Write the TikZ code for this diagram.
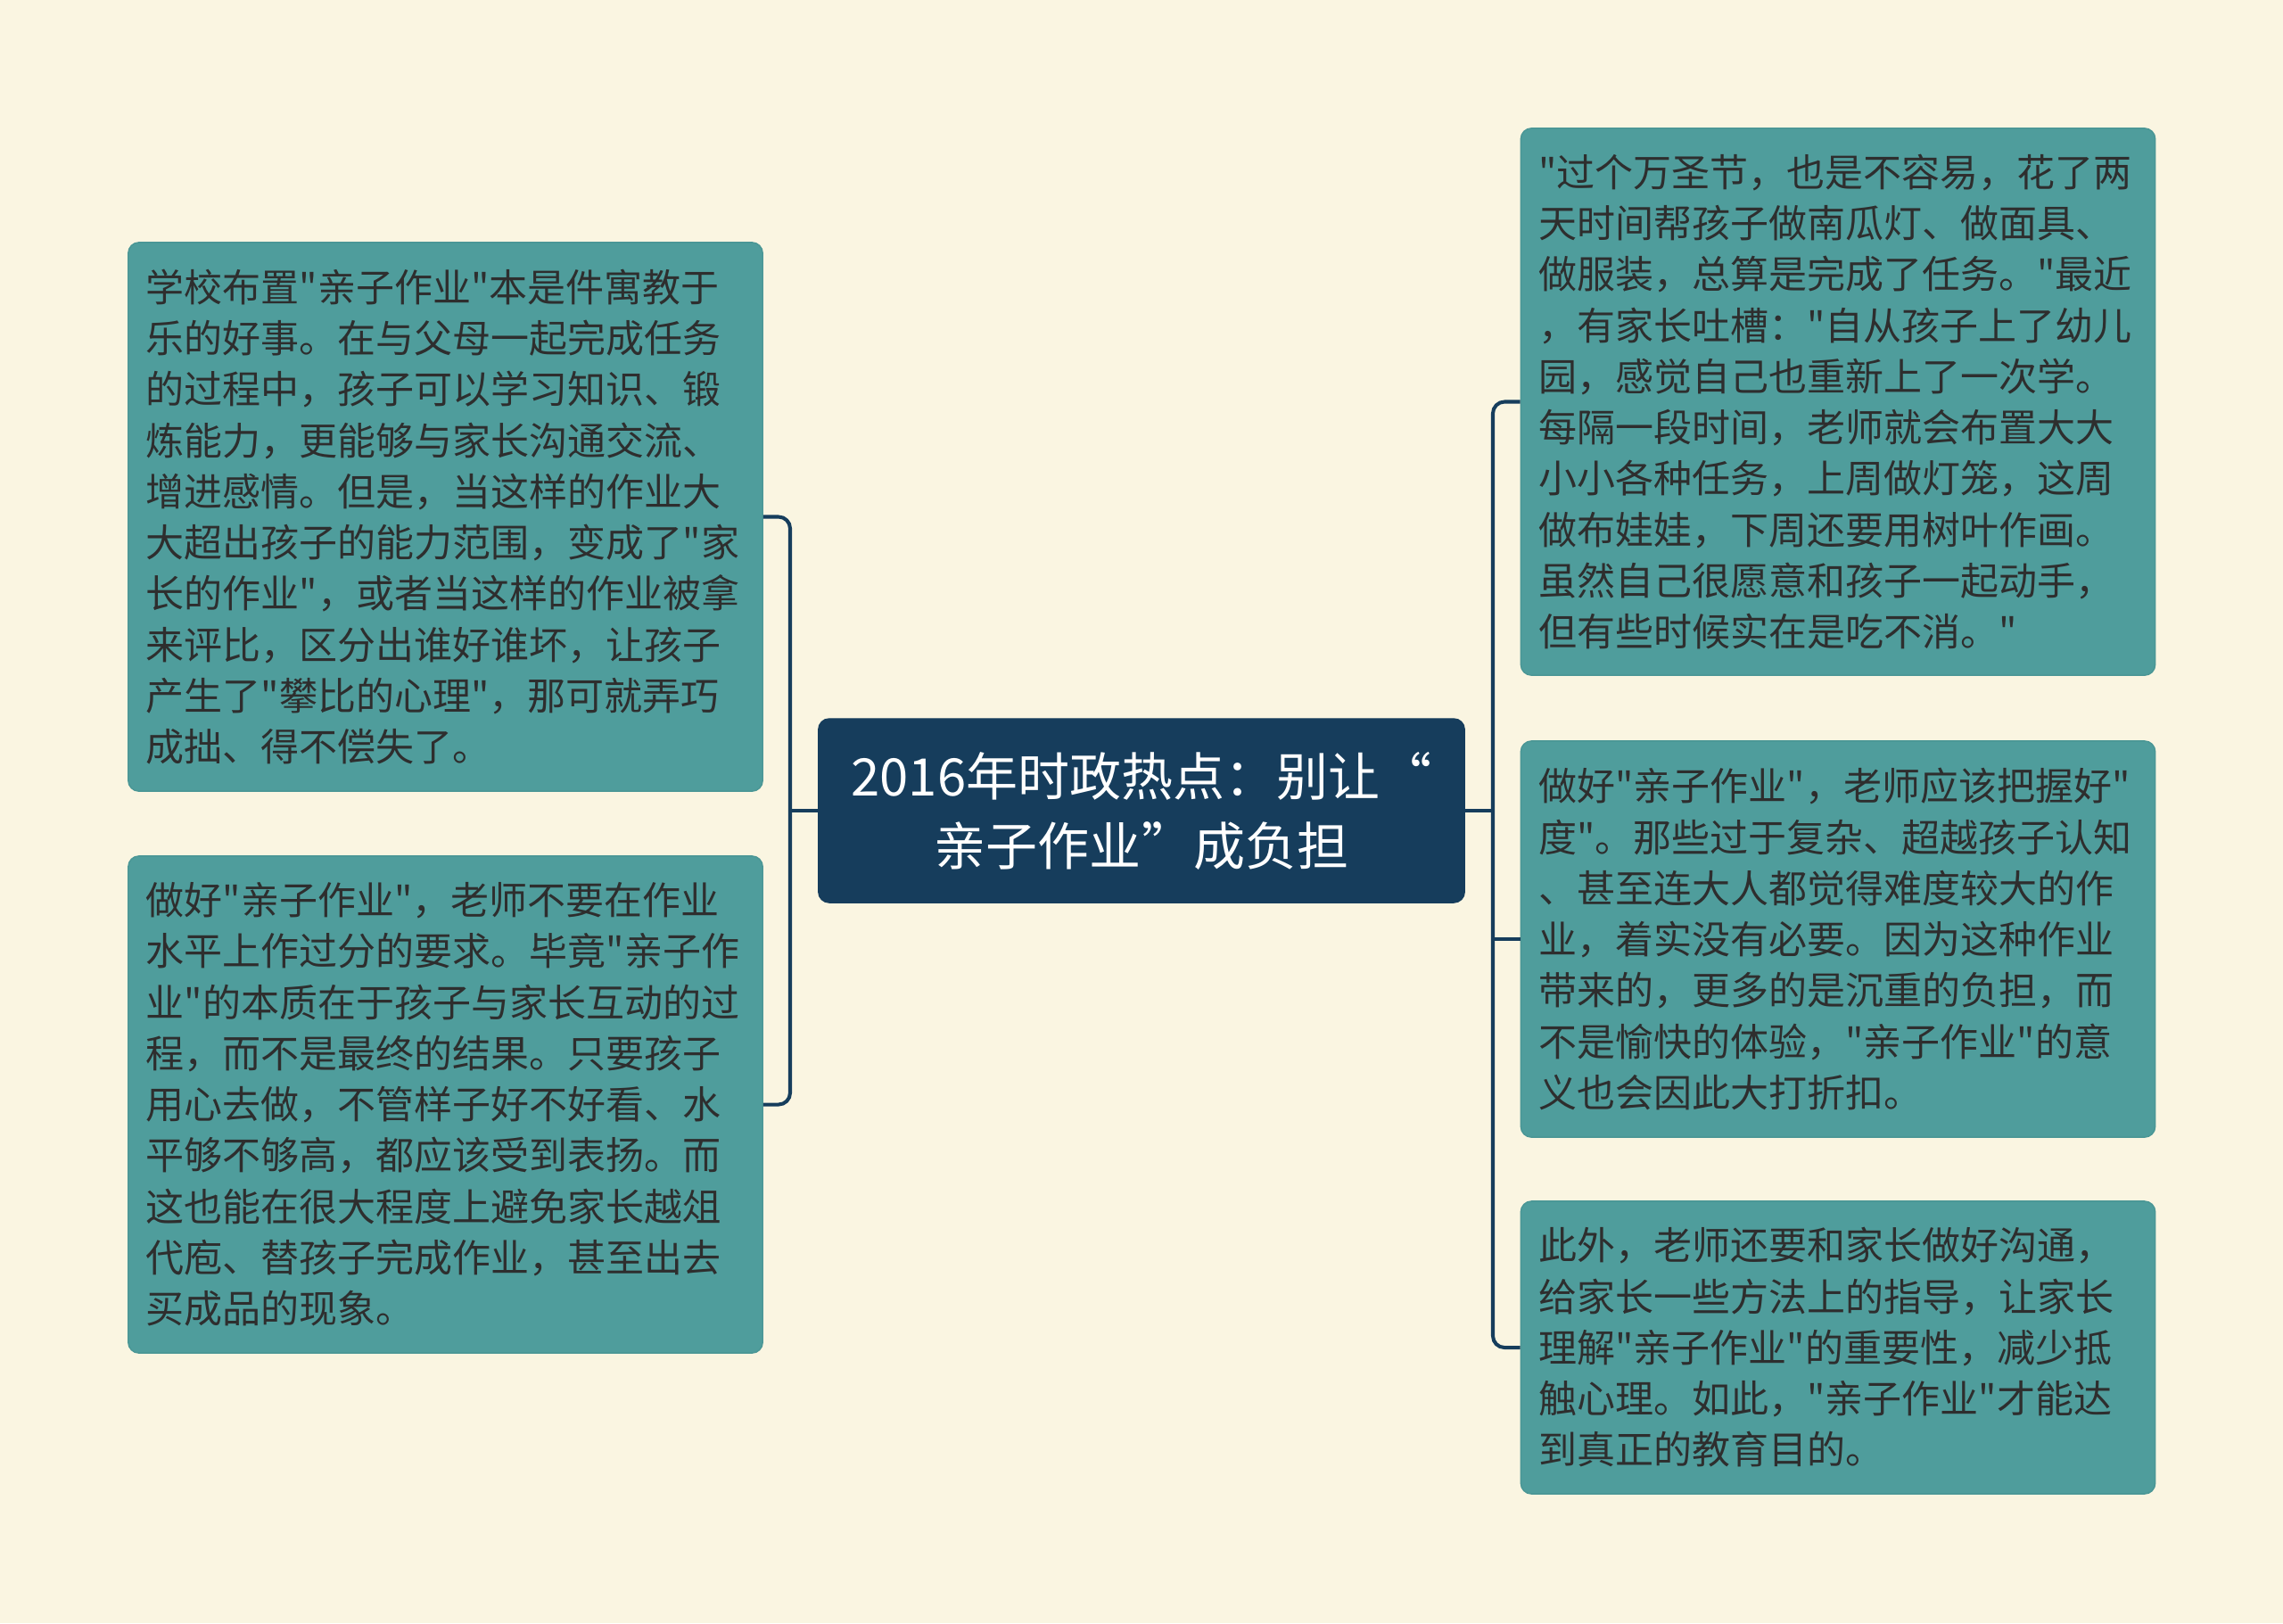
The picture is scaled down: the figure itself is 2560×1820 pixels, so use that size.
\documentclass[tikz,border=0pt]{standalone}
\usepackage{fontspec}
\setmainfont{Noto Sans CJK SC}
\newfontfamily\cjkplain{Noto Sans CJK SC}
\definecolor{bgcol}{HTML}{FAF5E1}
\definecolor{leaffill}{HTML}{4F9D9C}
\definecolor{leafedge}{HTML}{4A9695}
\definecolor{rootfill}{HTML}{163D5C}
\definecolor{linecol}{HTML}{163D5C}
\definecolor{leaftext}{HTML}{2E2E2E}
\tikzset{
  leafbox/.style={rectangle, rounded corners=0.12cm, fill=leaffill, draw=leafedge, line width=0.4pt,
    text width=6.71cm, inner xsep=0.2cm, inner ysep=0pt, align=left, text=leaftext,
    font=\cjkplain\fontsize{12.23pt}{16.28pt}\selectfont},
  rootbox/.style={rectangle, rounded corners=0.12cm, fill=rootfill, draw=rootfill,
    minimum width=7.24cm, minimum height=2.06cm, inner sep=0pt, align=center, text=white,
    font=\cjkplain\fontsize{16.5pt}{22.2pt}\selectfont},
  conn/.style={draw=linecol, line width=1.15pt},
}
\begin{document}
\begin{tikzpicture}[x=0.01cm,y=-0.01cm]
\fill[bgcol] (0,0) rectangle (2560,1820);
\useasboundingbox (0,0) rectangle (2560,1820);

\node[rootbox] (c) at (1280,909) {2016年时政热点：别让“\\亲子作业”成负担};

\node[leafbox, minimum height=6.15cm] (lt) at (499.5,579.5) {学校布置"亲子作业"本是件寓教于\\乐的好事。在与父母一起完成任务\\的过程中，孩子可以学习知识、锻\\炼能力，更能够与家长沟通交流、\\增进感情。但是，当这样的作业大\\大超出孩子的能力范围，变成了"家\\长的作业"，或者当这样的作业被拿\\来评比，区分出谁好谁坏，让孩子\\产生了"攀比的心理"，那可就弄巧\\成拙、得不偿失了。};

\node[leafbox, minimum height=5.57cm] (lb) at (499.5,1238.5) {做好"亲子作业"，老师不要在作业\\水平上作过分的要求。毕竟"亲子作\\业"的本质在于孩子与家长互动的过\\程，而不是最终的结果。只要孩子\\用心去做，不管样子好不好看、水\\平够不够高，都应该受到表扬。而\\这也能在很大程度上避免家长越俎\\代庖、替孩子完成作业，甚至出去\\买成品的现象。};

\node[leafbox, minimum height=6.13cm] (rt) at (2061,450.5) {"过个万圣节，也是不容易，花了两\\天时间帮孩子做南瓜灯、做面具、\\做服装，总算是完成了任务。"最近\\，有家长吐槽："自从孩子上了幼儿\\园，感觉自己也重新上了一次学。\\每隔一段时间，老师就会布置大大\\小小各种任务，上周做灯笼，这周\\做布娃娃，下周还要用树叶作画。\\虽然自己很愿意和孩子一起动手，\\但有些时候实在是吃不消。"};

\node[leafbox, minimum height=4.44cm] (rm) at (2061,1053) {做好"亲子作业"，老师应该把握好"\\度"。那些过于复杂、超越孩子认知\\、甚至连大人都觉得难度较大的作\\业，着实没有必要。因为这种作业\\带来的，更多的是沉重的负担，而\\不是愉快的体验，"亲子作业"的意\\义也会因此大打折扣。};

\node[leafbox, minimum height=3.28cm] (rb) at (2061,1511) {此外，老师还要和家长做好沟通，\\给家长一些方法上的指导，让家长\\理解"亲子作业"的重要性，减少抵\\触心理。如此，"亲子作业"才能达\\到真正的教育目的。};

\coordinate (jl) at (886,909);
\coordinate (jr) at (1674,909);

\draw[conn] (c.west) -- (jl);
\draw[conn, rounded corners=0.13cm] (jl) |- (lt.east);
\draw[conn, rounded corners=0.13cm] (jl) |- (lb.east);

\draw[conn] (c.east) -- (jr);
\draw[conn, rounded corners=0.13cm] (jr) |- (rt.west);
\draw[conn] (jr) |- (rm.west);
\draw[conn, rounded corners=0.13cm] (jr) |- (rb.west);
\end{tikzpicture}
\end{document}
